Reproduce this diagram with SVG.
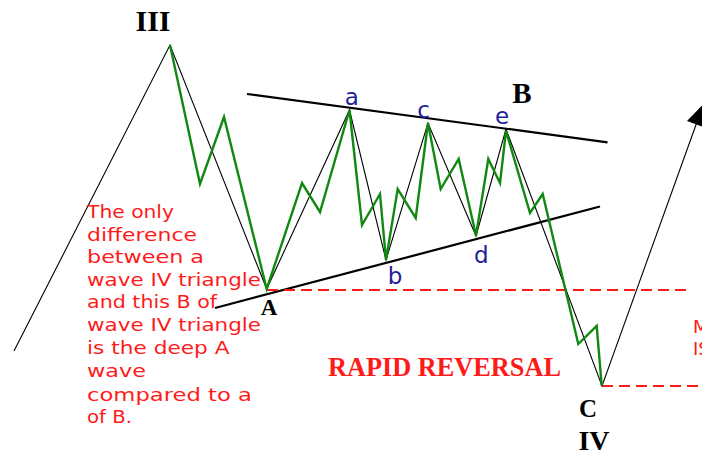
<svg xmlns="http://www.w3.org/2000/svg" width="702" height="453" viewBox="0 0 702 453">
<style>
.thin{fill:none;stroke:#000;stroke-width:1.1}
.trend{fill:none;stroke:#000;stroke-width:2.2}
.green{fill:none;stroke:#118811;stroke-width:2.4;stroke-linejoin:miter}
.dash{fill:none;stroke:#ff1a1a;stroke-width:1.8;stroke-dasharray:11 6}
.roman{font-family:"Liberation Serif",serif;font-weight:bold;fill:#000}
.lbl{font-family:"DejaVu Sans","Liberation Sans",sans-serif;font-size:23px;fill:#1f1f99;text-anchor:middle}
.note{font-family:"DejaVu Sans","Liberation Sans",sans-serif;font-size:18px;fill:#ff1a1a}
</style>
<rect width="702" height="453" fill="#fff"/>
<g id="connectors">
<polyline class="trend" points="247,94 607.5,142.3"/>
<polyline class="trend" points="215,308 600,206.5"/>
<polyline class="dash" points="267,290 688,290"/>
<polyline class="dash" points="602,386 702,386"/>
<polyline class="thin" points="14,351 170,45 266.7,289 349.5,110 386,260 428,123 476,236 506,129 602,386 697,122"/>
<polygon points="703.5,104 687,121 704.6,127.4" fill="#000"/>
<polyline class="green" points="170,45 200,184 224,117 266.7,289 302,183 320,212 349.5,110 362,225 380,194 386,260 397.7,189 415.7,218 428,123 440.7,189 458.7,159 476,235.5 488.3,159 500,183 506,131 530,213 542.7,194 578.3,344 596.7,326 601.7,385.7"/>
</g>
<g id="III"><text class="roman" x="153" y="31" font-size="30" text-anchor="middle">III</text></g>
<g id="B"><text class="roman" x="522" y="103" font-size="29" text-anchor="middle">B</text></g>
<g id="A"><text class="roman" x="269" y="315" font-size="23" text-anchor="middle">A</text></g>
<g id="C"><text class="roman" x="588" y="417" font-size="25" text-anchor="middle">C</text></g>
<g id="IV"><text class="roman" x="594" y="449.5" font-size="28" text-anchor="middle">IV</text></g>
<g id="label-a"><text class="lbl" x="351.7" y="105">a</text></g>
<g id="label-b"><text class="lbl" x="395" y="284">b</text></g>
<g id="label-c"><text class="lbl" x="423.7" y="117.5">c</text></g>
<g id="label-d"><text class="lbl" x="481.3" y="262.5">d</text></g>
<g id="label-e"><text class="lbl" x="502" y="124">e</text></g>
<g id="rapid-reversal"><text x="328" y="376" font-family="Liberation Serif, serif" font-weight="bold" font-size="27" fill="#ff1a1a" textLength="233" lengthAdjust="spacingAndGlyphs">RAPID REVERSAL</text></g>
<g id="note">
<text class="note" x="87" y="218.3" textLength="87" lengthAdjust="spacingAndGlyphs">The only</text>
<text class="note" x="87" y="240.5" textLength="110" lengthAdjust="spacingAndGlyphs">difference</text>
<text class="note" x="87" y="263" textLength="117" lengthAdjust="spacingAndGlyphs">between a</text>
<text class="note" x="87" y="285.5" textLength="174" lengthAdjust="spacingAndGlyphs">wave IV triangle</text>
<text class="note" x="87" y="308.3" textLength="130" lengthAdjust="spacingAndGlyphs">and this B of</text>
<text class="note" x="87" y="331" textLength="174" lengthAdjust="spacingAndGlyphs">wave IV triangle</text>
<text class="note" x="87" y="354" textLength="142.5" lengthAdjust="spacingAndGlyphs">is the deep A</text>
<text class="note" x="87" y="376.7" textLength="59" lengthAdjust="spacingAndGlyphs">wave</text>
<text class="note" x="87" y="400.7" textLength="165" lengthAdjust="spacingAndGlyphs">compared to a</text>
<text class="note" x="87" y="422.7" textLength="45" lengthAdjust="spacingAndGlyphs">of B.</text>
</g>
<g id="note-right">
<text class="note" x="693" y="333">M</text>
<text class="note" x="693" y="355">IS</text>
</g>
</svg>
